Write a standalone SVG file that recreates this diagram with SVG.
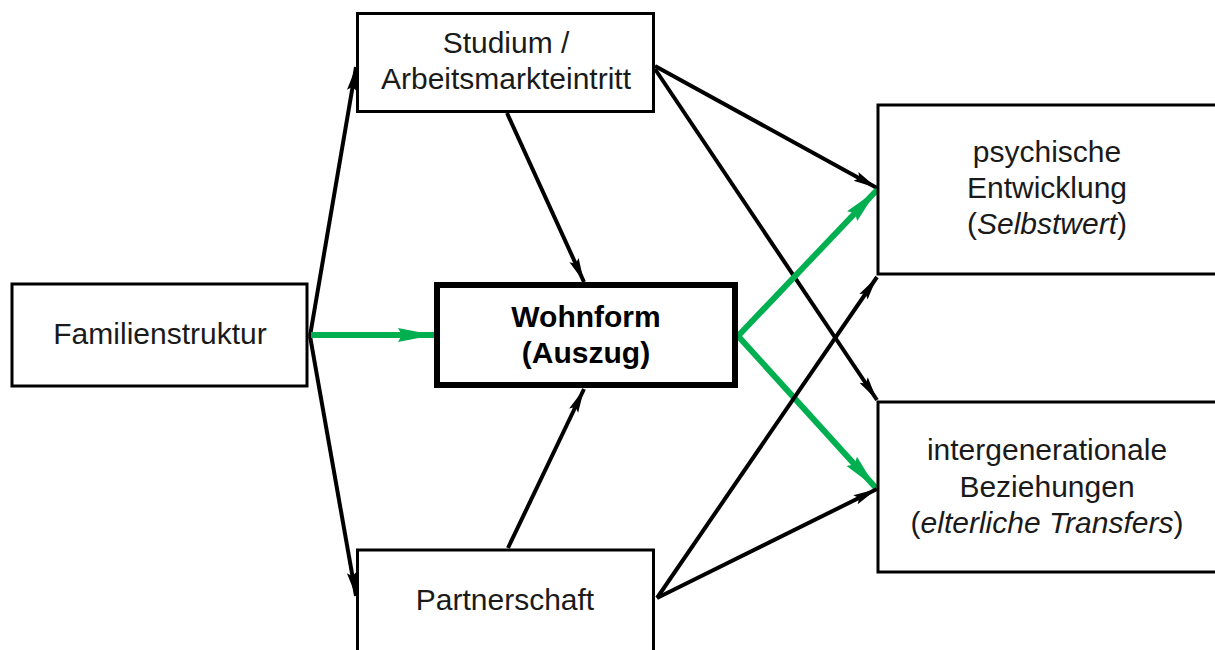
<svg xmlns="http://www.w3.org/2000/svg" width="1215" height="650" viewBox="0 0 1215 650">
  <style>
    .box { fill: #ffffff; stroke: #000000; stroke-width: 3; }
    .boxb { fill: #ffffff; stroke: #000000; stroke-width: 6; }
    .t { font-family: "Liberation Sans", Arial, sans-serif; font-size: 30px; fill: #1a1a1a; text-anchor: middle; }
    .tb { font-family: "Liberation Sans", Arial, sans-serif; font-size: 30px; font-weight: bold; fill: #000000; text-anchor: middle; }
    .blk { stroke: #000000; stroke-width: 4; fill: none; marker-end: url(#ah); }
    .grn { stroke: #00b050; stroke-width: 6; fill: none; marker-end: url(#ahg); }
  </style>
  <defs>
    <marker id="ah" markerUnits="userSpaceOnUse" markerWidth="26" markerHeight="14" refX="24" refY="7" orient="auto">
      <path d="M0,2 L24,7 L0,12 L4,7 z" fill="#000000"/>
    </marker>
    <marker id="ahg" markerUnits="userSpaceOnUse" markerWidth="38" markerHeight="18" refX="36" refY="9" orient="auto">
      <path d="M0,2 L36,9 L0,16 L4,9 z" fill="#00b050"/>
    </marker>
  </defs>
  <rect width="1215" height="650" fill="#ffffff"/>

  <g id="connectors">
    <line class="blk" x1="310" y1="336" x2="356" y2="67"/>
    <line class="blk" x1="310" y1="336" x2="356" y2="596"/>
    <line class="grn" x1="311" y1="335" x2="434" y2="335"/>
    <line class="blk" x1="507" y1="113" x2="584" y2="282"/>
    <line class="blk" x1="508" y1="548" x2="584" y2="389"/>
    <line class="blk" x1="655" y1="66" x2="877" y2="188"/>
    <line class="blk" x1="655" y1="69" x2="877" y2="400"/>
    <line class="grn" x1="738" y1="336" x2="877" y2="190"/>
    <line class="grn" x1="738" y1="336" x2="876" y2="488"/>
    <line class="blk" x1="657" y1="598" x2="877" y2="277"/>
    <line class="blk" x1="657" y1="598" x2="877" y2="489"/>
  </g>

  <g id="familienstruktur">
    <rect class="box" x="12" y="284" width="295" height="102"/>
    <text class="t" x="160" y="344">Familienstruktur</text>
  </g>

  <g id="studium">
    <rect class="box" x="357.5" y="13.5" width="296" height="98"/>
    <text class="t" x="506" y="53">Studium /</text>
    <text class="t" x="506" y="89">Arbeitsmarkteintritt</text>
  </g>

  <g id="wohnform">
    <rect class="boxb" x="437" y="285" width="298" height="100"/>
    <text class="tb" x="586" y="327">Wohnform</text>
    <text class="tb" x="586" y="363">(Auszug)</text>
  </g>

  <g id="partnerschaft">
    <rect class="box" x="357.5" y="550" width="296" height="120"/>
    <text class="t" x="505" y="610">Partnerschaft</text>
  </g>

  <g id="psychische">
    <rect class="box" x="878" y="105" width="400" height="169"/>
    <text class="t" x="1047" y="162">psychische</text>
    <text class="t" x="1047" y="198">Entwicklung</text>
    <text class="t" x="1047" y="234">(<tspan font-style="italic">Selbstwert</tspan>)</text>
  </g>

  <g id="intergenerationale">
    <rect class="box" x="878" y="402" width="400" height="170"/>
    <text class="t" x="1047" y="460">intergenerationale</text>
    <text class="t" x="1047" y="497">Beziehungen</text>
    <text class="t" x="1047" y="533">(<tspan font-style="italic">elterliche Transfers</tspan>)</text>
  </g>
</svg>
